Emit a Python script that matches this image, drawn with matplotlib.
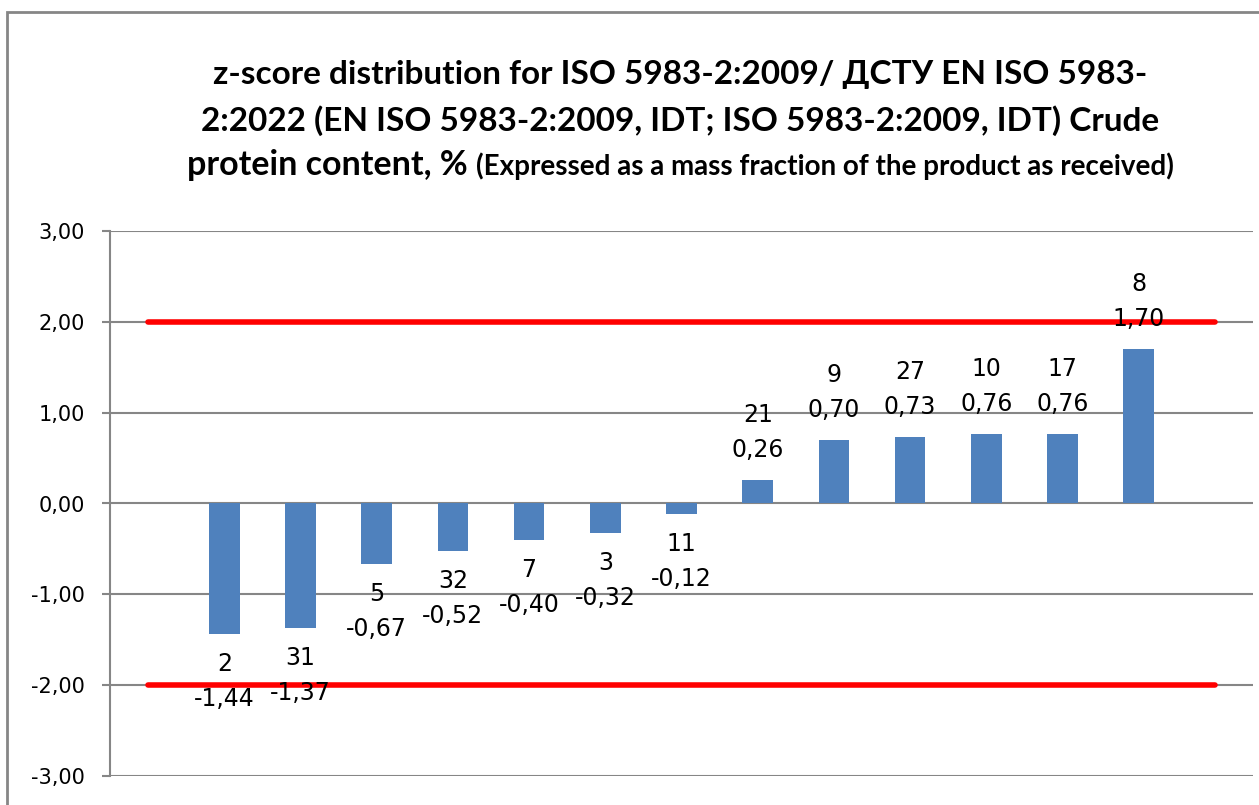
import matplotlib
matplotlib.use('Agg')
import matplotlib.pyplot as plt
from matplotlib.patches import Rectangle
from matplotlib.ticker import FuncFormatter

# lab codes and z-scores, sorted as in the report
codes  = ['2', '31', '5', '32', '7', '3', '11', '21', '9', '27', '10', '17', '8']
zscore = [-1.44, -1.37, -0.67, -0.52, -0.40, -0.32, -0.12, 0.26, 0.70, 0.73, 0.76, 0.76, 1.70]
limit_hi = 2.0
limit_lo = -2.0

n_slots = len(codes) + 2          # one empty slot at each end, as in the sheet
bar_x = list(range(1, len(codes) + 1))
line_x = list(range(n_slots))

fig = plt.figure(figsize=(12.59, 8.05), dpi=100)
ax = fig.add_axes([110/1259, 1 - 776/805, 1143/1259, 545/805])

grey = '#868686'
ax.bar(bar_x, zscore, width=0.4, color='#4F81BD', zorder=2)
ax.plot(line_x, [limit_hi]*n_slots, color='#FF0000', lw=4, solid_capstyle='round', zorder=3)
ax.plot(line_x, [limit_lo]*n_slots, color='#FF0000', lw=4, solid_capstyle='round', zorder=3)

ax.set_xlim(-0.5, n_slots - 0.5)
ax.set_ylim(-3, 3)
ax.set_yticks([-3, -2, -1, 0, 1, 2, 3])
ax.yaxis.set_major_formatter(FuncFormatter(lambda v, p: f'{v:.2f}'.replace('.', ',')))
ax.set_xticks([])
ax.grid(axis='y', color=grey, lw=1.5, zorder=1)
for s in ['top', 'right', 'bottom']:
    ax.spines[s].set_visible(False)
ax.spines['left'].set_color(grey)
ax.spines['left'].set_linewidth(1.5)
ax.tick_params(axis='y', direction='out', length=6, width=1.5, color=grey,
               labelsize=15, pad=12)

for x, c, v in zip(bar_x, codes, zscore):
    sgn = 1 if v >= 0 else -1
    txt = f'{v:.2f}'.replace('.', ',')
    first, second = (txt, c) if v >= 0 else (c, txt)
    ax.annotate(first, (x, v), xytext=(0, sgn*30), textcoords='offset pixels',
                ha='center', va='center', fontsize=17, zorder=4)
    ax.annotate(second, (x, v), xytext=(0, sgn*65), textcoords='offset pixels',
                ha='center', va='center', fontsize=17, zorder=4)

# title
tfam = ['Lato', 'DejaVu Sans']
fig.text(680/1259, 1 - 84/805, 'z-score distribution for ISO 5983-2:2009/ ДСТУ EN ISO 5983-',
         ha='center', va='baseline', fontsize=24, fontweight='bold', family=tfam)
fig.text(680/1259, 1 - 131/805, '2:2022 (EN ISO 5983-2:2009, IDT; ISO 5983-2:2009, IDT) Crude',
         ha='center', va='baseline', fontsize=24, fontweight='bold', family=tfam)
t1 = fig.text(187/1259, 1 - 175/805, 'protein content, % ',
              ha='left', va='baseline', fontsize=24.5, fontweight='bold', family=tfam)
fig.canvas.draw()
bb = t1.get_window_extent()
fig.text(bb.x1/1259, 1 - 175/805, '(Expressed as a mass fraction of the product as received)',
         ha='left', va='baseline', fontsize=20, fontweight='bold', family=tfam)

# chart-area border
fig.patches.append(Rectangle((7/1259, -0.05), 1.1, 1 - 12/805 + 0.05,
                             transform=fig.transFigure, fill=False,
                             edgecolor=grey, lw=2))

fig.savefig('out.png', dpi=100)
